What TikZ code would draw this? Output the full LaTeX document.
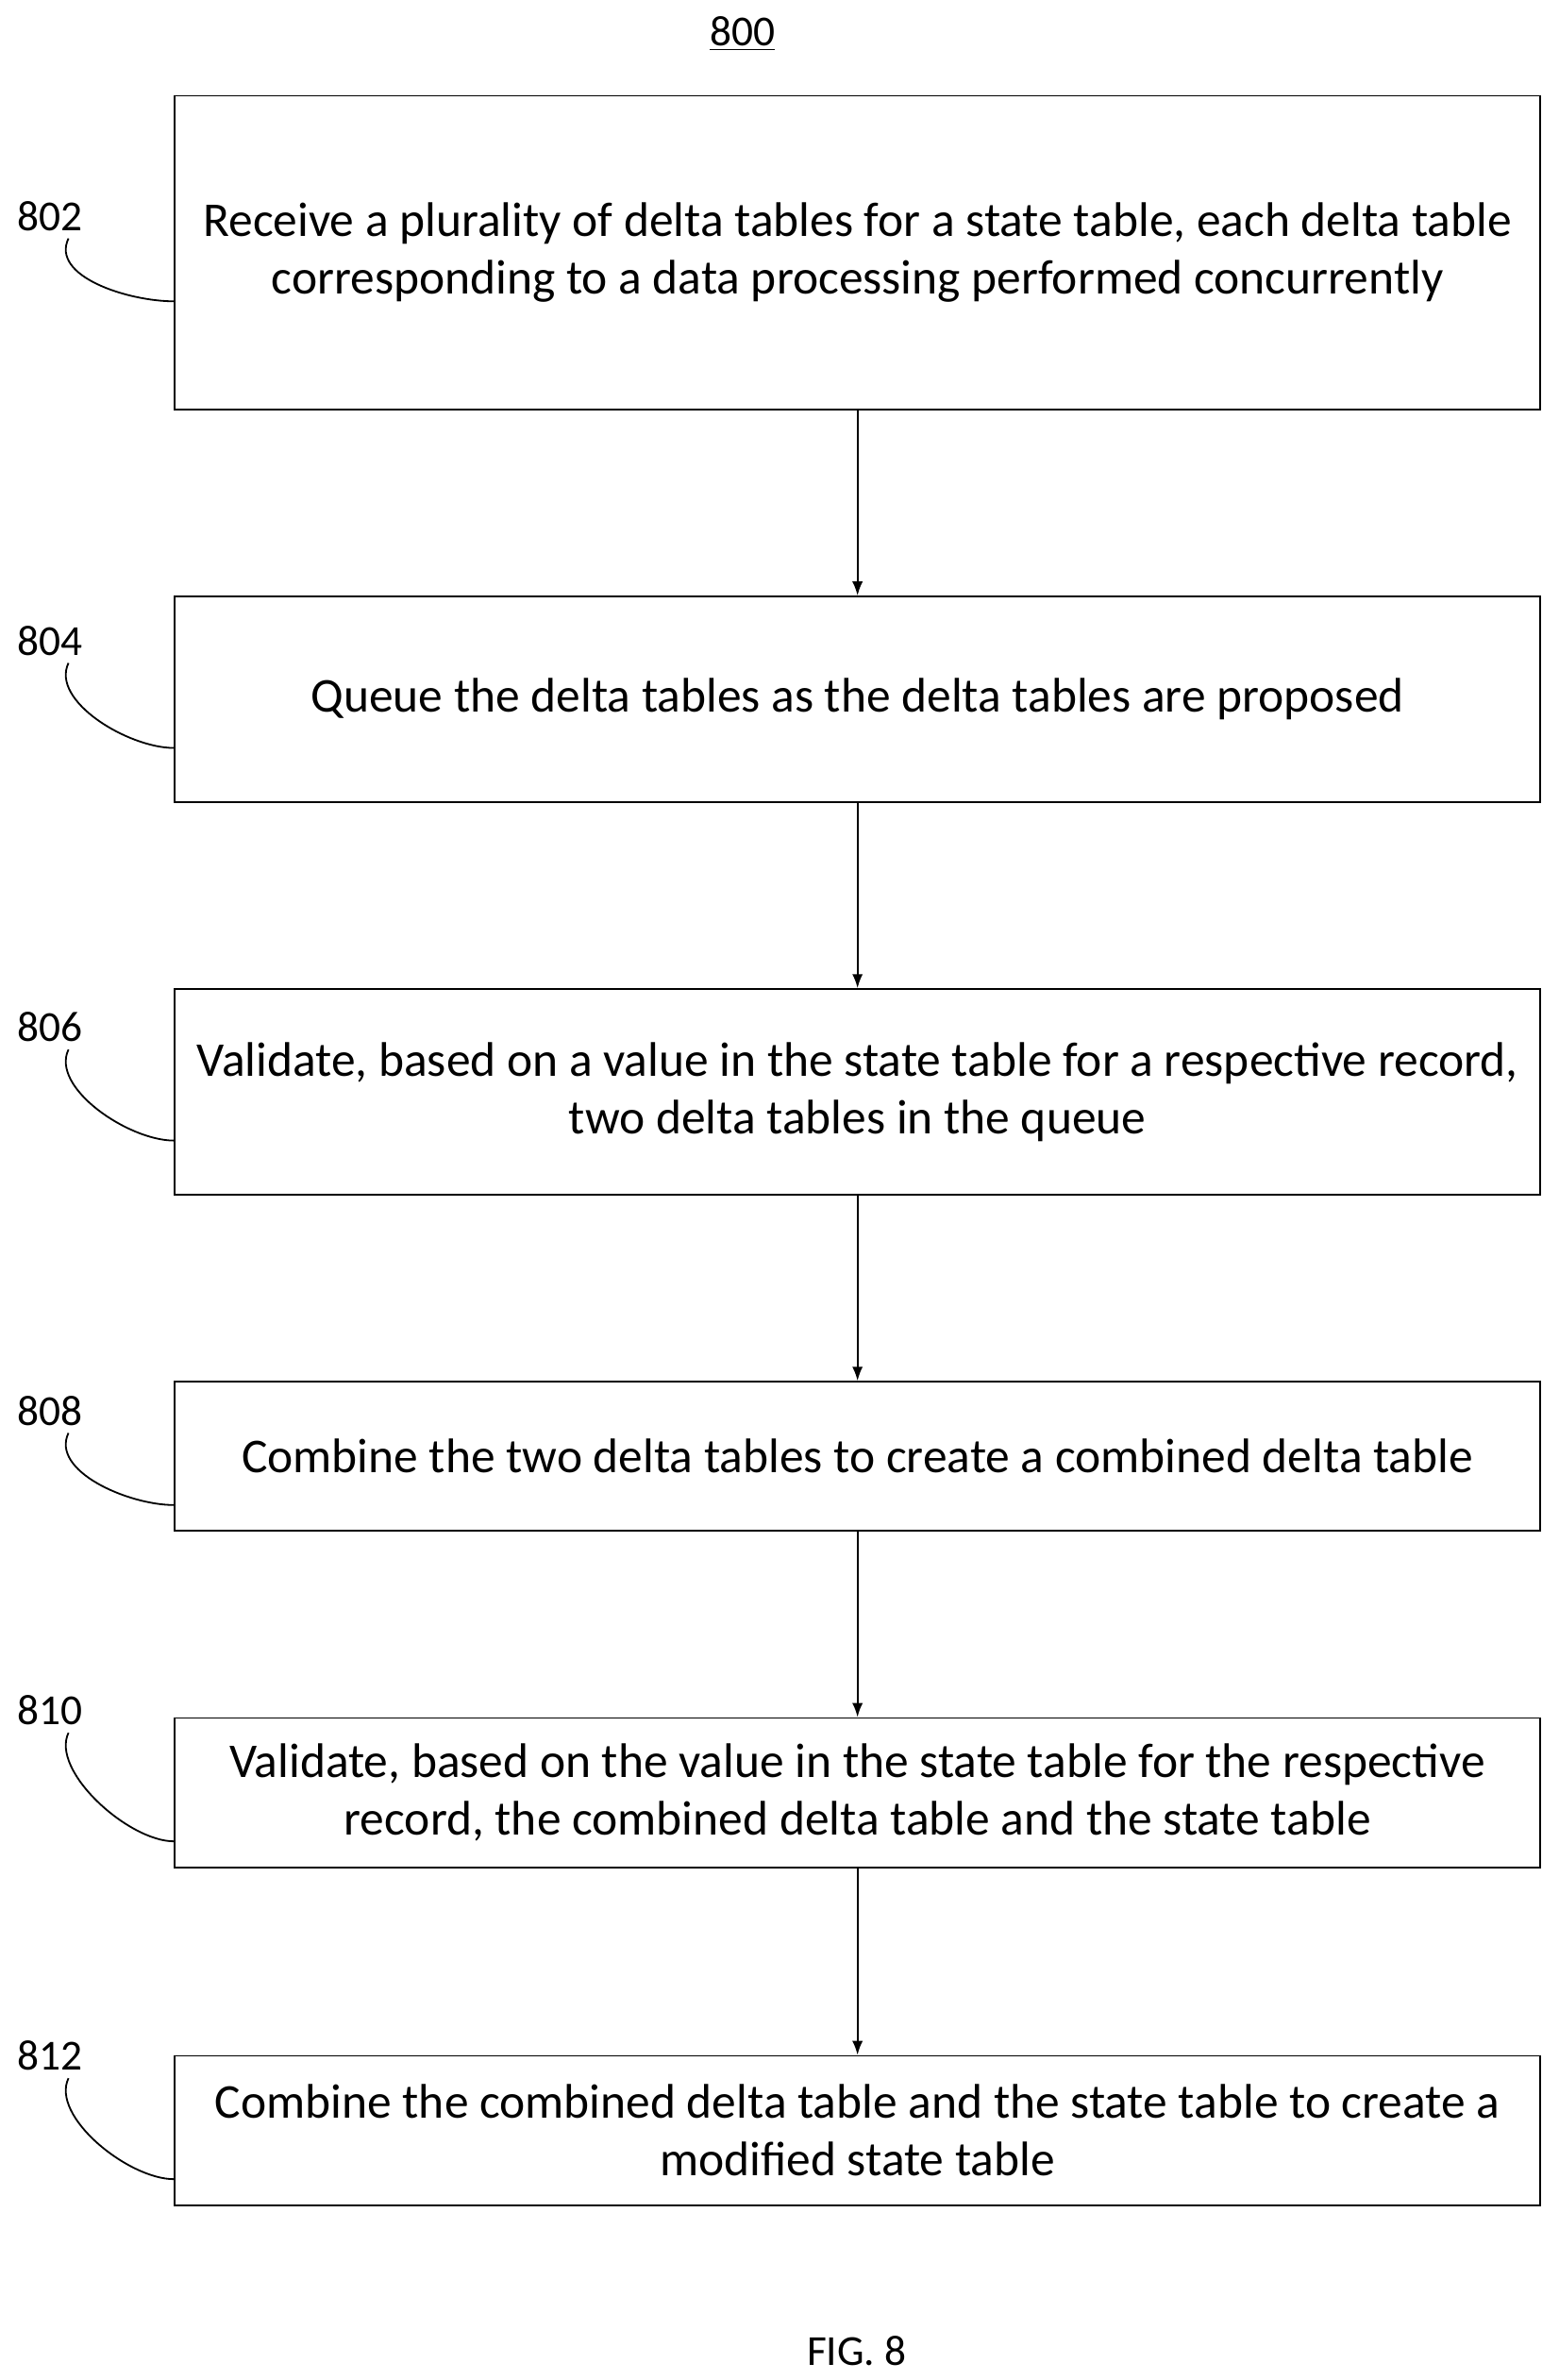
\documentclass[tikz,border=0pt]{standalone}
\usepackage{fontspec}
\setmainfont{Carlito}
\usetikzlibrary{positioning,arrows.meta}
\tikzset{
  stepbox/.style={rectangle, draw, thick, minimum width=22.425cm, align=center, font=\fontsize{22.7}{27}\selectfont},
  fwd/.style={->, thick, >=Latex},
  ref/.style={font=\fontsize{20}{24}\selectfont},
  lead/.style={thick},
}

\begin{document}
\begin{tikzpicture}[x=0.025cm, y=-0.025cm]
  \useasboundingbox (0,0) rectangle (1024,1564);
  \node[ref] (title) at (488,22) {\underline{800}};
  \node[stepbox, minimum height=5.15cm] (s802) at (563.5,166) {Receive a plurality of delta tables for a state table, each delta table\\corresponding to a data processing performed concurrently};
  \node[stepbox, minimum height=3.375cm] (s804) at (563.5,459.5) {Queue the delta tables as the delta tables are proposed};
  \node[stepbox, minimum height=3.375cm] (s806) at (563.5,717.5) {Validate, based on a value in the state table for a respective record,\\two delta tables in the queue};
  \node[stepbox, minimum height=2.45cm] (s808) at (563.5,957) {Combine the two delta tables to create a combined delta table};
  \node[stepbox, minimum height=2.45cm] (s810) at (563.5,1178) {Validate, based on the value in the state table for the respective\\record, the combined delta table and the state table};
  \node[stepbox, minimum height=2.45cm] (s812) at (563.5,1400) {Combine the combined delta table and the state table to create a\\modified state table};
  \node[ref] (fig) at (563,1545) {FIG. 8};

  % step numbers with leader curves
  \node[ref] (l802) at (33,142) {802};
  \node[ref] (l804) at (33,421) {804};
  \node[ref] (l806) at (33,675) {806};
  \node[ref] (l808) at (33,927) {808};
  \node[ref] (l810) at (33,1124) {810};
  \node[ref] (l812) at (33,1351) {812};
  \foreach \n in {802,804,806,808,810,812}
    \draw[lead] ([xshift=0.3cm]l\n.south) .. controls +(-12,25) and +(-30,0) .. ([yshift=-0.8cm]s\n.west);

  \draw[fwd] (s802) -- (s804);
  \draw[fwd] (s804) -- (s806);
  \draw[fwd] (s806) -- (s808);
  \draw[fwd] (s808) -- (s810);
  \draw[fwd] (s810) -- (s812);
\end{tikzpicture}
\end{document}
